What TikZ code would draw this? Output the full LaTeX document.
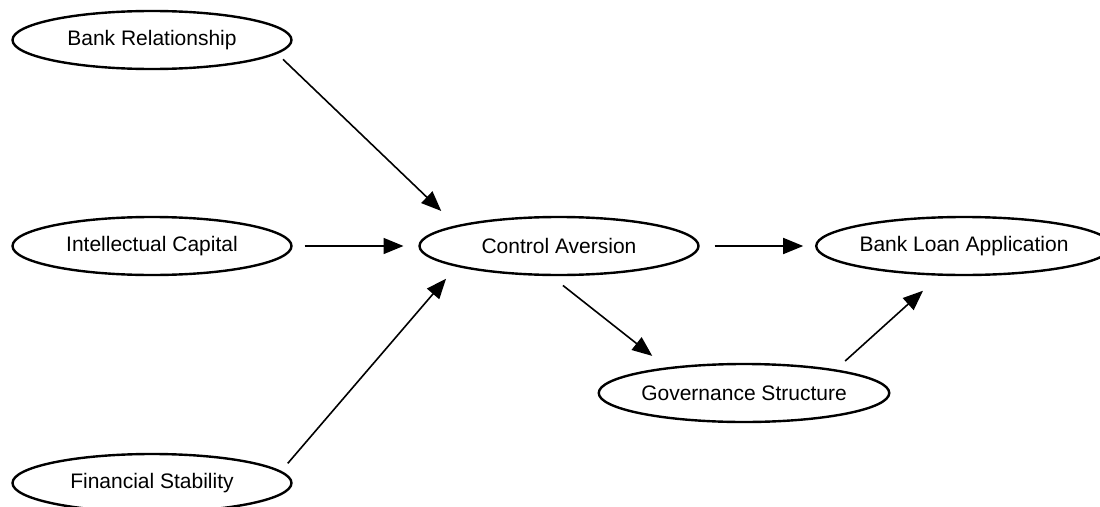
\documentclass[tikz,border=0pt]{standalone}
\usepackage{fontspec}
\setmainfont{Liberation Sans}
\usetikzlibrary{shapes.geometric,arrows.meta}
\begin{document}
\begin{tikzpicture}[x=1pt,y=-1pt,
  var/.style={ellipse, draw, line width=2.4pt, minimum width=279pt, minimum height=58pt, inner sep=0pt, outer sep=0pt, font=\fontsize{21}{25}\selectfont},
  link/.style={line width=1.6pt, -{Triangle[length=20pt,width=16pt]}}]
\useasboundingbox (0,0) rectangle (1100,506);
\node[var] (br) at (152,40) {Bank Relationship};
\node[var] (ic) at (152,246) {Intellectual Capital};
\node[var] (fs) at (152,483) {Financial Stability};
\node[var] (ca) at (559,246) {Control Aversion};
\node[var, minimum width=265pt] (bla) at (964,246) {Bank Loan Application};
\node[var] (gs) at (744,393) {Governance Structure};
\draw[link, shorten <=9pt, shorten >=22pt] (br.-6) -- (ca.169);
\draw[link, shorten <=13pt, shorten >=16pt] (ic.east) -- (ca.west);
\draw[link, shorten <=11pt, shorten >=17pt] (fs.5) -- (ca.191);
\draw[link, shorten <=16pt, shorten >=13pt] (ca.east) -- (bla.west);
\draw[link, shorten <=17pt, shorten >=20pt] (ca.252) -- (gs.162);
\draw[link, shorten <=14pt, shorten >=24pt] (gs.14) -- (bla.231);
\end{tikzpicture}
\end{document}
